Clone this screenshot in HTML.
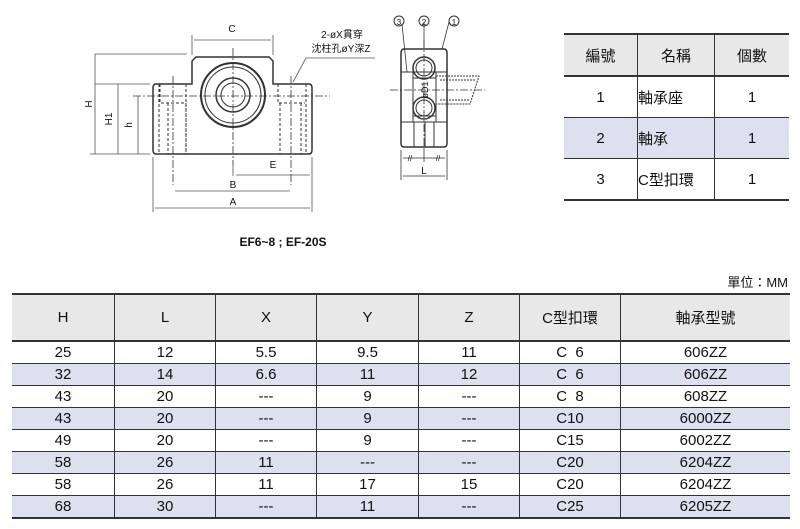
<!DOCTYPE html>
<html><head><meta charset="utf-8"><style>
body{margin:0;width:800px;height:529px;background:#fff;position:relative;font-family:"Liberation Sans","Noto Sans CJK TC",sans-serif;overflow:hidden}
table{border-collapse:collapse;position:absolute}
td{text-align:center;font-size:15px;color:#111;padding:0}
.big td{border-left:1px solid #333}
.big td:first-child{border-left:none}
.big tr.h td{background:#e8e8e8;height:45px;border-top:2px solid #333;border-bottom:2px solid #333}
.big tr.r td{height:21px;border-bottom:1px solid #333}
.big tr.s td{background:#dde0ee}
.big tr.last td{border-bottom:2px solid #333}
.sm td{border-left:1px solid #333;height:40px;border-bottom:1px solid #333}
.sm td:first-child{border-left:none}
.sm tr.h td{background:#e8e8e8;border-top:2px solid #333;border-bottom:2px solid #333}
.sm tr.s td{background:#dde0ee}
.sm tr.last td{border-bottom:2px solid #333}
</style></head><body>
<svg width="800" height="529" style="position:absolute;left:0;top:0" font-family="Liberation Sans, Noto Sans CJK TC, sans-serif">
<g stroke="#333" fill="none" stroke-width="1">
<path d="M156,84 H192 V61 L196,57 H269 L273,61 V84 H309 Q312,84 312,88 V150 Q312,154 309,154 H156 Q153,154 153,150 V88 Q153,84 156,84 Z" stroke-width="1.5"/>
<circle cx="233" cy="95" r="32" stroke-width="2"/>
<circle cx="233" cy="95" r="28"/>
<circle cx="233" cy="95" r="17" stroke-width="1.5"/>
<circle cx="233" cy="95" r="12"/>
<g stroke-dasharray="3,2">
<path d="M159,84 V154 M186,84 V154 M160,84 V103 H186 M278,84 V103 H305 M280,103 V154 M306,84 V154 M168,103 V154 M186,103 V154 M301,103 V154"/>
</g>
<g stroke-dasharray="8,2,2,2" stroke-width="0.8">
<path d="M233,48 V165 M133,96 H330 M173,76 V185 M291,76 V185"/>
</g>
<g stroke="#555" stroke-width="0.8">
<path d="M192,55 V35 M273,55 V35 M194,40 H271" />
<path d="M95,54 H187 M95,84 H150 M118,84 V154 M95,54 V154 M138,96 V154 M90,154 H150 M153,157 V212 M312,157 V212 M155,208 H310 M175,191 H290 M233,160 V176 M236,175 H310"/>
<path d="M293,82 L306,58 H375"/>
</g>
<path d="M404,49 H444 Q447,49 447,53 V143 Q447,147 444,147 H404 Q401,147 401,143 V53 Q401,49 404,49 Z" stroke-width="1.5"/>
<path d="M401,72 H447 M401,122 H447 M413,72 V122 M436,72 V122 M413,78 H436 M413,116 H436 M414,122 V147 M425,122 V147 M434,122 V147"/>
<circle cx="424" cy="68" r="11" stroke-width="1.5"/><circle cx="424" cy="68" r="8"/>
<circle cx="424" cy="108" r="11" stroke-width="1.5"/><circle cx="424" cy="108" r="8"/>
<path d="M436,76 H479 L470,104 H436 M440,80 H476 M440,100 H470" stroke-dasharray="2,1"/>
<path d="M390,90 H485 M424,40 V150" stroke-dasharray="8,2,2,2" stroke-width="0.8"/>
<path d="M401,150 V180 M447,150 V180 M403,158 H445 M403,176 H445 M424,150 V162" stroke-width="0.8"/>
<path d="M402,24 L407,72 M424,22 V48 M449,22 L442,49" stroke-width="0.8"/>
<circle cx="399" cy="21" r="5"/><circle cx="424" cy="21" r="5"/><circle cx="454" cy="21" r="5"/>
</g>
<g font-size="10" fill="#111" text-anchor="middle">
<text x="232" y="32">C</text><text x="273" y="168">E</text><text x="233" y="188">B</text><text x="233" y="205">A</text>
<text x="424" y="174">L</text>
<text x="399" y="25" font-size="8">3</text><text x="424" y="25" font-size="8">2</text><text x="454" y="25" font-size="8">1</text>
<text x="410" y="161" font-size="8">//</text><text x="438" y="161" font-size="8">//</text>
<text transform="translate(92,104) rotate(-90)">H</text>
<text transform="translate(112,119) rotate(-90)">H1</text>
<text transform="translate(132,125) rotate(-90)">h</text>
<text transform="translate(428,90) rotate(-90)" font-size="9">øD1</text>
<text x="342" y="38" font-size="10">2-øX貫穿</text>
<text x="341" y="52" font-size="10">沈柱孔øY深Z</text>
<text x="283" y="246" font-size="12" font-weight="bold">EF6~8 ; EF-20S</text>
<text x="788" y="287" font-size="13" text-anchor="end">單位：MM</text>
</g>
</svg>
<table class="sm" style="left:564px;top:33px;width:225px">
<tr class="h"><td style="width:73px">編號</td><td style="width:76px">名稱</td><td>個數</td></tr>
<tr><td>1</td><td style="text-align:left">軸承座</td><td>1</td></tr>
<tr class="s"><td>2</td><td style="text-align:left">軸承</td><td>1</td></tr>
<tr class="last"><td>3</td><td style="text-align:left">C型扣環</td><td>1</td></tr>
</table>
<table class="big" style="left:12px;top:293px;width:778px">
<tr class="h"><td style="width:102px">H</td><td style="width:100px">L</td><td style="width:100px">X</td><td style="width:101px">Y</td><td style="width:100px">Z</td><td style="width:100px">C型扣環</td><td>軸承型號</td></tr>
<tr class="r"><td>25</td><td>12</td><td>5.5</td><td>9.5</td><td>11</td><td>C&nbsp;&nbsp;6</td><td>606ZZ</td></tr>
<tr class="r s"><td>32</td><td>14</td><td>6.6</td><td>11</td><td>12</td><td>C&nbsp;&nbsp;6</td><td>606ZZ</td></tr>
<tr class="r"><td>43</td><td>20</td><td>---</td><td>9</td><td>---</td><td>C&nbsp;&nbsp;8</td><td>608ZZ</td></tr>
<tr class="r s"><td>43</td><td>20</td><td>---</td><td>9</td><td>---</td><td>C10</td><td>6000ZZ</td></tr>
<tr class="r"><td>49</td><td>20</td><td>---</td><td>9</td><td>---</td><td>C15</td><td>6002ZZ</td></tr>
<tr class="r s"><td>58</td><td>26</td><td>11</td><td>---</td><td>---</td><td>C20</td><td>6204ZZ</td></tr>
<tr class="r"><td>58</td><td>26</td><td>11</td><td>17</td><td>15</td><td>C20</td><td>6204ZZ</td></tr>
<tr class="r s last"><td>68</td><td>30</td><td>---</td><td>11</td><td>---</td><td>C25</td><td>6205ZZ</td></tr>
</table>
</body></html>
